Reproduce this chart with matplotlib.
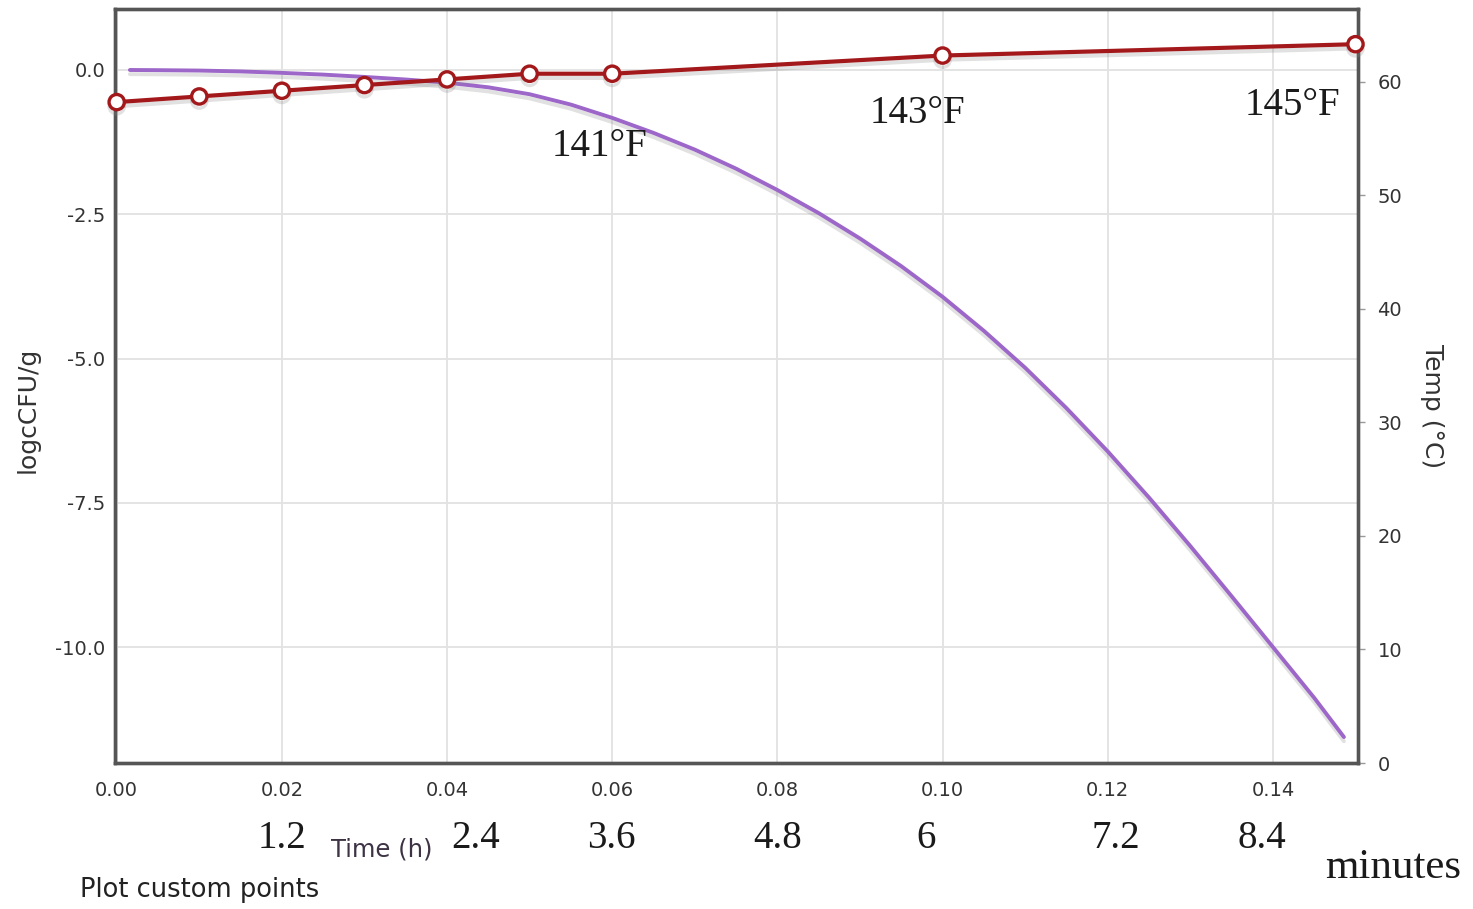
import matplotlib
matplotlib.use("Agg")
import matplotlib.pyplot as plt
import matplotlib.patheffects as pe
from matplotlib.transforms import blended_transform_factory

plt.rcParams['axes.unicode_minus'] = False

# ---- data ----
temp_time_h = [0.0, 0.01, 0.02, 0.03, 0.04, 0.05, 0.06, 0.10, 0.15]
temp_c = [58.2, 58.7, 59.2, 59.7, 60.2, 60.7, 60.7, 62.3, 63.3]

log_time_h = [0.0016, 0.005, 0.01, 0.015, 0.02, 0.025, 0.03, 0.035, 0.04,
              0.045, 0.05, 0.055, 0.06, 0.065, 0.07, 0.075, 0.08, 0.085,
              0.09, 0.095, 0.10, 0.105, 0.11, 0.115, 0.12, 0.125, 0.13,
              0.135, 0.14, 0.145, 0.1486]
log_cfu = [0.0, -0.003, -0.01, -0.025, -0.05, -0.08, -0.12, -0.165, -0.22,
           -0.30, -0.42, -0.60, -0.83, -1.09, -1.38, -1.71, -2.08, -2.48,
           -2.92, -3.40, -3.93, -4.52, -5.16, -5.86, -6.61, -7.41, -8.25,
           -9.12, -10.0, -10.88, -11.56]

x_ticks = [0.00, 0.02, 0.04, 0.06, 0.08, 0.10, 0.12, 0.14]
left_ticks = [0.0, -2.5, -5.0, -7.5, -10.0]
right_ticks = [0, 10, 20, 30, 40, 50, 60]

minute_labels = ["1.2", "2.4", "3.6", "4.8", "6", "7.2", "8.4"]
minute_label_x = [0.0200, 0.0435, 0.0599, 0.0800, 0.0980, 0.1210, 0.1387]

temp_labels = ["141°F", "143°F", "145°F"]
temp_label_xy = [(0.0585, -1.33), (0.0969, -0.75), (0.1424, -0.61)]

# ---- figure ----
fig = plt.figure(figsize=(14.73, 9.09), dpi=100)
ax = fig.add_axes([0.0781, 0.1606, 0.9219 - 0.0781, 0.9901 - 0.1606])
ax2 = ax.twinx()

red = '#a3191b'
purple = '#9d66c9'
spine_c = '#555555'
tick_c = '#333333'

ax.set_xlim(-0.0002, 0.1503)
ax.set_ylim(-12.01, 1.057)
ax2.set_ylim(0, 66.4)

ax.set_xticks(x_ticks)
ax.set_xticklabels([f"{v:.2f}" for v in x_ticks])
ax.set_yticks(left_ticks)
ax.set_yticklabels([f"{v:.1f}" for v in left_ticks])
ax2.set_yticks(right_ticks)
ax2.set_yticklabels([str(v) for v in right_ticks])

ax.grid(True, color='#e2e2e2', linewidth=1.3)
ax.set_axisbelow(True)

for a in (ax, ax2):
    for s in a.spines.values():
        s.set_color(spine_c)
        s.set_linewidth(2.4)

sans = ['DejaVu Sans']
ax.tick_params(axis='x', length=0, pad=13, labelsize=14, labelcolor=tick_c)
ax.tick_params(axis='y', length=0, pad=7, labelsize=14, labelcolor=tick_c)
ax2.tick_params(axis='y', length=5, width=1, color='#999999', pad=9,
                labelsize=14, labelcolor=tick_c)
for lab in ax.get_xticklabels() + ax.get_yticklabels() + ax2.get_yticklabels():
    lab.set_family(sans)

shadow = [pe.SimpleLineShadow(offset=(0, -3), shadow_color='#888888', alpha=0.25),
          pe.Normal()]

ax.plot(log_time_h, log_cfu, color=purple, linewidth=2.8,
        solid_joinstyle='round', solid_capstyle='round',
        path_effects=shadow, zorder=3, clip_on=False)
ax2.plot(temp_time_h, temp_c, color=red, linewidth=3.0, marker='o',
         markersize=11, markerfacecolor='white', markeredgecolor=red,
         markeredgewidth=2.4, path_effects=shadow, zorder=4, clip_on=False)

ax.set_ylabel('logcCFU/g', family=sans, fontsize=18, color=tick_c)
ax2.set_ylabel('Temp (°C)', family=sans, fontsize=18, color=tick_c,
               rotation=-90, va='center')
ax.yaxis.set_label_coords(-0.070, 0.468)
ax2.yaxis.set_label_coords(1.0595, 0.473)
ax.yaxis.label.set_va('center')

serif = ['Liberation Serif', 'DejaVu Serif']
for txt, (x, y) in zip(temp_labels, temp_label_xy):
    ax.text(x, y, txt, family=serif, fontsize=28, color='#1a1a1a',
            ha='center', va='center')

tr = blended_transform_factory(ax.transData, fig.transFigure)
for txt, x in zip(minute_labels, minute_label_x):
    fig.text(x, 1 - 838 / 909, txt, transform=tr, family=serif, fontsize=28,
             color='#1a1a1a', ha='center', va='center')

fig.text(1393 / 1473, 1 - 868 / 909, 'minutes', family=serif, fontsize=31,
         color='#1a1a1a', ha='center', va='center')
fig.text(382 / 1473, 1 - 850 / 909, 'Time (h)', family=sans, fontsize=17.5,
         color='#3d3345', ha='center', va='center')
fig.text(80 / 1473, 1 - 890 / 909, 'Plot custom points', family=sans,
         fontsize=18.5, color='#222222', ha='left', va='center')

fig.savefig('out.png', dpi=100)
